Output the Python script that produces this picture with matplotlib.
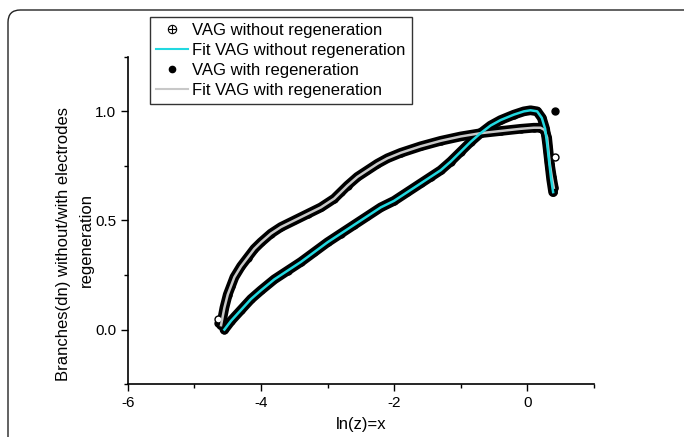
import numpy as np
import matplotlib
matplotlib.use('Agg')
import matplotlib.pyplot as plt
from matplotlib.patches import PathPatch
from matplotlib.path import Path
from matplotlib.ticker import MultipleLocator, FuncFormatter

plt.rcParams['font.family'] = ['Liberation Sans', 'DejaVu Sans']

# VAG without regeneration (lower branch)
x_without = [-4.55, -4.45, -4.3, -4.15, -4.0, -3.8, -3.6, -3.4, -3.2, -3.0,
             -2.8, -2.6, -2.4, -2.2, -2.0, -1.8, -1.6, -1.45, -1.3, -1.15,
             -1.0, -0.85, -0.7, -0.55, -0.4, -0.2, -0.05, 0.05, 0.15, 0.22,
             0.27, 0.30, 0.33, 0.36, 0.39]
y_without = [0.0, 0.04, 0.09, 0.14, 0.18, 0.23, 0.27, 0.31, 0.355, 0.40,
             0.44, 0.48, 0.52, 0.56, 0.59, 0.63, 0.67, 0.70, 0.73, 0.77,
             0.815, 0.86, 0.90, 0.935, 0.96, 0.985, 1.0, 1.005, 1.0, 0.97,
             0.92, 0.85, 0.77, 0.69, 0.63]

# VAG with regeneration (upper branch)
x_with = [-4.6, -4.55, -4.5, -4.45, -4.4, -4.3, -4.2, -4.1, -4.0, -3.85,
          -3.7, -3.5, -3.3, -3.1, -2.9, -2.8, -2.7, -2.55, -2.4, -2.25,
          -2.1, -1.9, -1.6, -1.3, -1.0, -0.7, -0.4, -0.1, 0.1, 0.2,
          0.26, 0.30, 0.32, 0.34, 0.37, 0.40]
y_with = [0.02, 0.10, 0.16, 0.20, 0.24, 0.29, 0.33, 0.37, 0.40, 0.44,
          0.47, 0.50, 0.53, 0.56, 0.60, 0.63, 0.66, 0.70, 0.73, 0.76,
          0.785, 0.81, 0.84, 0.865, 0.885, 0.90, 0.91, 0.92, 0.925, 0.925,
          0.915, 0.88, 0.82, 0.76, 0.70, 0.65]

# stray points
x_out_without = [-4.65, 0.42]
y_out_without = [0.05, 0.79]
x_out_with = [-4.65, 0.42]
y_out_with = [0.03, 1.0]

fig = plt.figure(figsize=(6.84, 4.37), dpi=100)
ax = fig.add_axes([0.187, 0.121, 0.681, 0.749])

# outer frame: left and top edges with a rounded corner
fx, fy, r = 8 / 684, 1 - 10 / 437, 0.018
verts = [(fx, -0.05), (fx, fy - r * 684 / 437), (fx, fy), (fx + r, fy), (1.05, fy)]
codes = [Path.MOVETO, Path.LINETO, Path.CURVE3, Path.CURVE3, Path.LINETO]
fig.patches.append(PathPatch(Path(verts, codes), transform=fig.transFigure,
                             fill=False, edgecolor='#222222', lw=1.0))

# dense black marker bands
ax.plot(x_with, y_with, color='black', lw=7, solid_capstyle='round',
        solid_joinstyle='round', zorder=2)
ax.plot(x_without, y_without, color='black', lw=7, solid_capstyle='round',
        solid_joinstyle='round', zorder=2)
ax.plot(x_with, y_with, 'o', color='black', ms=5, zorder=2)
ax.plot(x_without, y_without, 'o', mfc='none', mec='black', ms=5, zorder=2)
ax.plot(x_out_with, y_out_with, 'o', color='black', ms=5, zorder=2)
ax.plot(x_out_without, y_out_without, 'o', mfc='white', mec='black', ms=5, zorder=2)

# fit lines
ax.plot(x_with, y_with, color='#c8c8c8', lw=1.8, zorder=3)
ax.plot(x_without, y_without, color='#22d8e0', lw=1.8, zorder=3)

ax.set_xlim(-6, 1)
ax.set_ylim(-0.25, 1.25)
ax.xaxis.set_major_locator(MultipleLocator(2))
ax.xaxis.set_minor_locator(MultipleLocator(1))
ax.yaxis.set_major_locator(MultipleLocator(0.5))
ax.yaxis.set_minor_locator(MultipleLocator(0.25))
ax.xaxis.set_major_formatter(FuncFormatter(lambda v, p: '%d' % v))
ax.yaxis.set_major_formatter(FuncFormatter(lambda v, p: '%.1f' % v))
ax.tick_params(which='major', direction='out', length=5, width=1, labelsize=11)
ax.tick_params(which='minor', direction='out', length=3, width=1)
for s in ['top', 'right']:
    ax.spines[s].set_visible(False)
for s in ['left', 'bottom']:
    ax.spines[s].set_linewidth(1.2)

ax.set_xlabel('ln(z)=x', fontsize=12, labelpad=5)

# two-line y label, placed like the reference
fig.text(64 / 684, 1 - 244 / 437, 'Branches(dn) without/with electrodes',
         rotation=90, ha='center', va='center', fontsize=12)
fig.text(86 / 684, 1 - 240 / 437, 'regeneration',
         rotation=90, ha='center', va='center', fontsize=12)

h1a, = ax.plot([], [], ls='none', marker='o', mfc='white', mec='black', ms=6, mew=0.8)
h1b, = ax.plot([], [], ls='none', marker='+', color='black', ms=6, mew=0.8)
h2, = ax.plot([], [], color='#22d8e0', lw=1.5)
h3, = ax.plot([], [], ls='none', marker='o', color='black', ms=4.5)
h4, = ax.plot([], [], color='#c8c8c8', lw=1.5)
leg = fig.legend([(h1a, h1b), h2, h3, h4],
                 ['VAG without regeneration', 'Fit VAG without regeneration',
                  'VAG with regeneration', 'Fit VAG with regeneration'],
                 loc='upper left', bbox_to_anchor=(150 / 684, 1 - 17 / 437),
                 fontsize=12, frameon=True, fancybox=False, edgecolor='black',
                 borderaxespad=0, handlelength=1.9, handletextpad=0.3,
                 labelspacing=0.3, borderpad=0.35)
leg.get_frame().set_linewidth(1.0)

fig.savefig('out.png', dpi=100)
